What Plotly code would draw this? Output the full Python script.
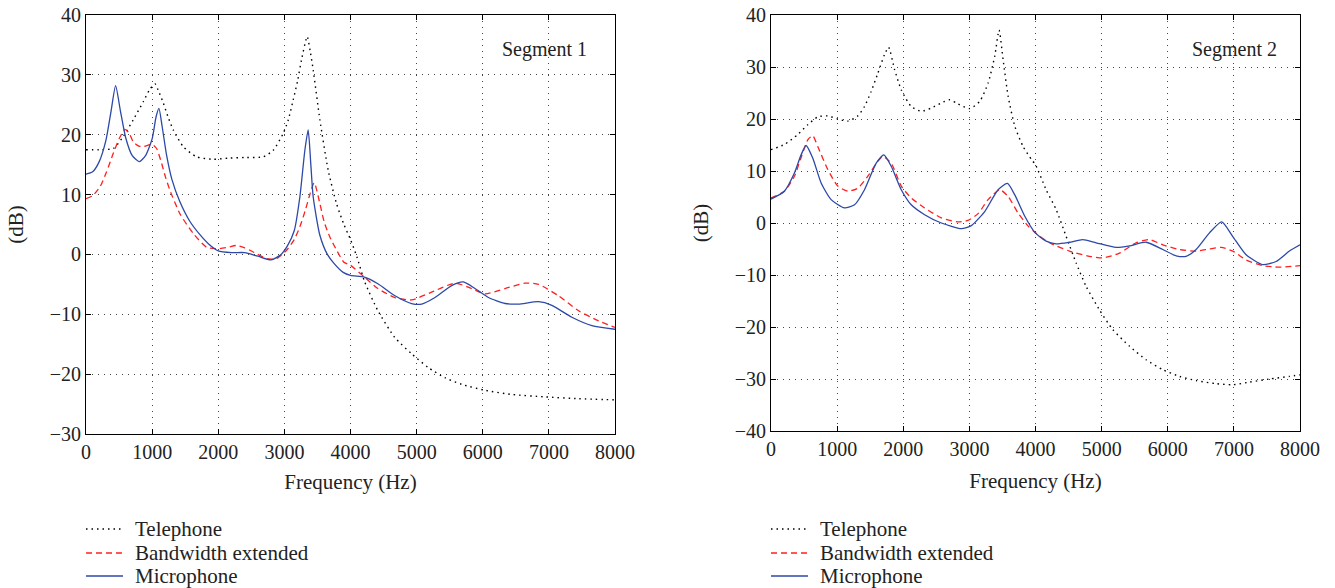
import plotly.graph_objects as go

# ---------------- Segment 1 data ----------------
s1_mic_f = [0, 100, 200, 300, 380, 448, 520, 600, 700, 806, 900, 1000, 1060, 1103, 1150, 1220, 1300,
            1420, 1572, 1723, 1850, 2000, 2200, 2400, 2600, 2800, 2950, 3050, 3150, 3234, 3310, 3360,
            3400, 3436, 3537, 3650, 3750, 3889, 4000, 4212, 4414, 4672, 4924, 5076, 5278, 5530, 5707,
            5883, 6086, 6338, 6540, 6843, 7045, 7348, 7651, 8000]
s1_mic_db = [13.4, 13.8, 15.5, 19.0, 24.0, 28.2, 24.0, 19.5, 16.5, 15.5, 16.5, 19.3, 23.0, 24.4, 21.5,
             16.5, 12.5, 8.8, 5.5, 3.3, 1.8, 0.6, 0.3, 0.3, -0.3, -0.9, 0.0, 1.5, 4.0, 9.6, 17.4, 20.8,
             15.0, 9.6, 3.2, 0.0, -1.5, -3.0, -3.5, -3.8, -4.9, -6.9, -8.2, -8.3, -7.2, -5.2, -4.6,
             -5.7, -7.2, -8.2, -8.3, -7.9, -8.5, -10.5, -11.9, -12.5]

s1_bwe_f = [0, 100, 212, 300, 413, 504, 589, 650, 715, 800, 866, 950, 1000, 1068, 1144, 1200, 1270,
            1420, 1622, 1824, 2000, 2150, 2277, 2400, 2479, 2600, 2730, 2882, 3033, 3150, 3234, 3320,
            3385, 3451, 3537, 3600, 3688, 3800, 3900, 4000, 4212, 4414, 4672, 4924, 5227, 5580, 5832,
            6035, 6338, 6641, 6843, 7146, 7449, 7752, 8000]
s1_bwe_db = [9.3, 9.8, 11.3, 13.5, 16.9, 19.4, 20.9, 20.3, 18.8, 18.1, 18.0, 18.3, 18.4, 17.7, 15.2,
             13.0, 10.7, 6.8, 3.5, 1.2, 0.95, 1.2, 1.5, 1.1, 0.7, 0.0, -0.7, -0.7, 0.7, 2.5, 4.6, 7.5,
             10.0, 12.0, 8.5, 5.5, 2.9, 0.5, -1.3, -1.8, -3.8, -5.7, -7.2, -7.6, -6.3, -4.8, -5.7,
             -6.6, -5.7, -4.8, -5.0, -6.9, -9.4, -11.1, -12.2]

s1_tel_f = [0, 200, 413, 564, 715, 866, 960, 1043, 1100, 1169, 1240, 1320, 1471, 1673, 1924, 2176,
            2428, 2680, 2831, 2982, 3060, 3133, 3200, 3259, 3345, 3390, 3436, 3537, 3662, 3788, 3900,
            4000, 4100, 4212, 4414, 4672, 4924, 5177, 5429, 5681, 6035, 6439, 6943, 7449, 8000]
s1_tel_db = [17.5, 17.5, 17.7, 19.7, 22.5, 25.5, 27.5, 28.5, 27.2, 25.3, 23.0, 20.8, 18.0, 16.3, 15.9,
             16.1, 16.2, 16.3, 17.4, 20.2, 22.5, 25.8, 29.0, 32.5, 36.4, 34.0, 30.8, 22.5, 14.1, 8.5,
             5.0, 2.5, -0.5, -4.5, -9.4, -13.9, -16.6, -18.9, -20.6, -21.7, -22.7, -23.4, -23.8,
             -24.1, -24.3]

# ---------------- Segment 2 data ----------------
s2_mic_f = [0, 202, 354, 455, 530, 631, 758, 909, 1111, 1263, 1414, 1591, 1707, 1818, 1970, 2121,
            2323, 2576, 2879, 3030, 3232, 3434, 3576, 3687, 3838, 3990, 4161, 4312, 4514, 4715, 4917,
            5220, 5422, 5673, 5925, 6126, 6278, 6429, 6631, 6817, 6984, 7185, 7437, 7639, 7840, 8000]
s2_mic_db = [4.6, 6.1, 9.6, 13.1, 14.9, 12.5, 7.7, 4.5, 2.9, 3.5, 6.4, 11.5, 13.1, 10.9, 6.4, 3.5,
             1.6, 0.0, -1.1, -0.5, 2.2, 6.4, 7.6, 5.4, 1.3, -1.8, -3.5, -4.0, -3.7, -3.2, -3.8,
             -4.7, -4.4, -3.7, -5.1, -6.3, -6.4, -5.1, -1.9, 0.2, -2.6, -6.1, -8.0, -7.4, -5.4, -4.2]

s2_bwe_f = [0, 202, 354, 480, 556, 631, 707, 859, 1010, 1162, 1313, 1465, 1616, 1692, 1818, 1970,
            2121, 2323, 2576, 2828, 2980, 3131, 3283, 3460, 3586, 3737, 3889, 4000, 4212, 4514, 4816,
            5015, 5270, 5522, 5724, 5925, 6177, 6429, 6631, 6808, 6984, 7185, 7437, 7690, 8000]
s2_bwe_db = [4.8, 6.1, 9.0, 13.5, 16.0, 16.8, 14.7, 10.3, 7.1, 6.1, 6.7, 9.0, 11.9, 12.8, 11.5, 7.1,
             4.8, 2.9, 1.0, 0.2, 0.5, 1.8, 4.5, 6.4, 5.1, 1.9, -0.6, -1.9, -3.8, -5.4, -6.4,
             -6.7, -5.8, -3.8, -3.2, -4.2, -5.1, -5.4, -5.0, -4.7, -5.4, -7.1, -8.2, -8.5, -8.2]

s2_tel_f = [0, 202, 404, 556, 707, 859, 1010, 1162, 1313, 1414, 1515, 1616, 1717, 1778, 1869, 1970,
            2121, 2273, 2424, 2576, 2702, 2828, 3005, 3157, 3283, 3384, 3449, 3510, 3586, 3687, 3813,
            3939, 4000, 4161, 4312, 4464, 4615, 4766, 4967, 5169, 5422, 5673, 5925, 6177, 6429, 6732,
            6984, 7236, 7538, 7840, 8000]
s2_tel_db = [14.1, 15.1, 17.0, 18.9, 20.4, 20.6, 20.0, 19.6, 20.6, 22.4, 25.3, 28.8, 32.4, 33.8, 29.5,
             25.6, 22.4, 21.5, 22.1, 23.1, 23.7, 22.9, 22.0, 23.4, 26.9, 32.1, 37.1, 31.4, 24.4, 18.6,
             14.7, 12.2, 11.2, 6.4, 2.6, -2.6, -7.7, -12.2, -16.7, -20.5, -23.7, -26.3, -28.2, -29.5,
             -30.3, -30.9, -31.1, -30.6, -30.0, -29.5, -29.2]

x_ticks = [0, 1000, 2000, 3000, 4000, 5000, 6000, 7000, 8000]
y_ticks_1 = [-30, -20, -10, 0, 10, 20, 30, 40]
y_ticks_2 = [-40, -30, -20, -10, 0, 10, 20, 30, 40]
series_names = ["Telephone", "Bandwidth extended", "Microphone"]
panel_titles = ["Segment 1", "Segment 2"]

FONT = "Liberation Serif"
TXT = "#222222"
W, H = 1335, 588
BLUE = "#2c48a8"
RED = "#ff1f1f"
styles = [dict(color="black", width=1.4, dash="1.5px,4px"),
          dict(color=RED, width=1.3, dash="6px,4px"),
          dict(color=BLUE, width=1.3, dash="solid")]

fig = go.Figure()


def add_panel(xa, ya, series):
    for (f, db), name, st in zip(series, series_names, styles):
        fig.add_trace(go.Scatter(x=f, y=db, name=name, xaxis=xa, yaxis=ya, mode="lines",
                                 line=dict(shape="spline", smoothing=0.6, **st),
                                 showlegend=False))


add_panel("x", "y", [(s1_tel_f, s1_tel_db), (s1_bwe_f, s1_bwe_db), (s1_mic_f, s1_mic_db)])
add_panel("x2", "y2", [(s2_tel_f, s2_tel_db), (s2_bwe_f, s2_bwe_db), (s2_mic_f, s2_mic_db)])

axis_common = dict(showline=True, linecolor="black", linewidth=1, mirror="ticks",
                   ticks="inside", ticklen=5, tickcolor="black", showgrid=True,
                   gridcolor="#444444", gridwidth=1, griddash="1px,5px", zeroline=False,
                   automargin=False,
                   tickfont=dict(family=FONT, size=20, color=TXT),
                   title_font=dict(family=FONT, size=21, color=TXT))


def px_x(p):
    return p / W


def px_y(p):
    return 1 - p / H


fig.update_layout(
    width=W, height=H, margin=dict(l=0, r=0, t=0, b=0),
    paper_bgcolor="white", plot_bgcolor="white",
    font=dict(family=FONT, size=20, color=TXT),
    showlegend=False,
    xaxis=dict(domain=[px_x(86), px_x(615)], range=[0, 8000], tickvals=x_ticks,
               anchor="y", title=dict(text="Frequency (Hz)", standoff=12), **axis_common),
    yaxis=dict(domain=[px_y(434), px_y(15)], range=[-30, 40], tickvals=y_ticks_1,
               anchor="x", title=dict(text="(dB)", standoff=20), **axis_common),
    xaxis2=dict(domain=[px_x(771), px_x(1300)], range=[0, 8000], tickvals=x_ticks,
                anchor="y2", title=dict(text="Frequency (Hz)", standoff=14), **axis_common),
    yaxis2=dict(domain=[px_y(431), px_y(15)], range=[-40, 40], tickvals=y_ticks_2,
                anchor="x2", title=dict(text="(dB)", standoff=20), **axis_common),
)

fig.add_annotation(x=7600, y=34.2, xref="x", yref="y", text=panel_titles[0], showarrow=False,
                   xanchor="right", yanchor="middle", font=dict(family=FONT, size=20, color=TXT))
fig.add_annotation(x=7680, y=33.3, xref="x2", yref="y2", text=panel_titles[1], showarrow=False,
                   xanchor="right", yanchor="middle", font=dict(family=FONT, size=20, color=TXT))

# Legends below each panel (line sample + label)
legend_rows_px = [529, 553, 576]
for left in (86, 771):
    for name, st, ypx in zip(series_names, styles, legend_rows_px):
        fig.add_shape(type="line", xref="paper", yref="paper",
                      x0=px_x(left), x1=px_x(left + 37), y0=px_y(ypx), y1=px_y(ypx),
                      line=dict(color=st["color"], width=st["width"], dash=st["dash"]))
        fig.add_annotation(x=px_x(left + 47), y=px_y(ypx), xref="paper", yref="paper",
                           text=name, showarrow=False, xanchor="left", yanchor="middle",
                           font=dict(family=FONT, size=21, color=TXT))

fig.write_html("out.html", config={"displayModeBar": False},
               post_script="document.body.style.margin='0';document.body.style.overflow='hidden';")
